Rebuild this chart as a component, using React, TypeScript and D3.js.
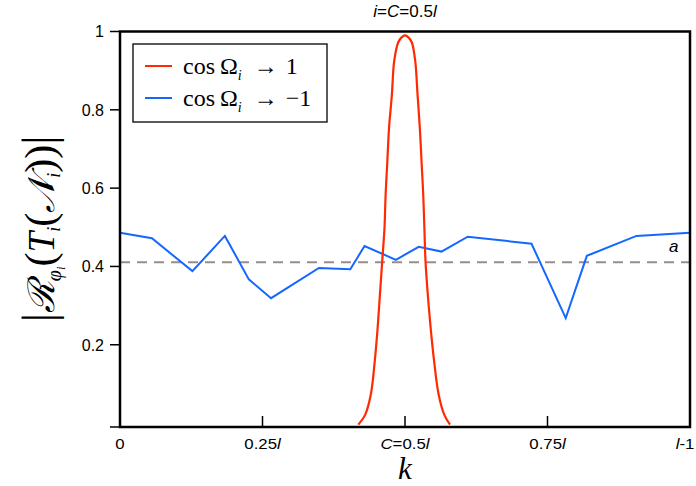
import React from "react";
import * as d3 from "d3";

// ---- data ----
const xTickValues = [0, 0.25, 0.5, 0.75, 1];
const xTickLabels = [["0"], ["0.25", "l"], ["C", "=0.5", "l"], ["0.75", "l"], ["l", "-1"]];
const yTickValues = [0.2, 0.4, 0.6, 0.8, 1];
const yTickLabels = ["0.2", "0.4", "0.6", "0.8", "1"];

const blueX = [0.0, 0.056, 0.127, 0.184, 0.226, 0.265, 0.349, 0.404, 0.429, 0.484, 0.524, 0.564, 0.61, 0.722, 0.782, 0.819, 0.906, 1.0];
const blueY = [0.486, 0.472, 0.388, 0.478, 0.367, 0.319, 0.396, 0.393, 0.452, 0.417, 0.45, 0.438, 0.476, 0.458, 0.268, 0.427, 0.478, 0.486];

const redX = [0.418, 0.43, 0.44, 0.447, 0.452, 0.456, 0.46, 0.464, 0.466, 0.469, 0.472, 0.477, 0.481, 0.488, 0.494, 0.5, 0.506, 0.512, 0.518, 0.522, 0.526, 0.529, 0.532, 0.534, 0.536, 0.54, 0.545, 0.551, 0.559, 0.569, 0.579];
const redY = [-0.004, 0.021, 0.073, 0.159, 0.243, 0.328, 0.413, 0.498, 0.583, 0.668, 0.754, 0.839, 0.924, 0.972, 0.985, 0.99, 0.985, 0.972, 0.924, 0.839, 0.754, 0.668, 0.583, 0.498, 0.413, 0.328, 0.243, 0.159, 0.073, 0.021, -0.004];

const thresholdA = 0.411;
const legendLabels = [{ end: "1" }, { end: "\u22121" }];

const W = 696;
const H = 486;
const BLUE = "#1468ff";
const RED = "#ff2a00";

export default function App() {
  const x = d3.scaleLinear().domain([0, 1]).range([120, 690]);
  const y = d3.scaleLinear().domain([-0.01, 1]).range([427, 31.5]);

  const blueLine = d3.line<number>().x((_, i) => x(blueX[i])).y((d) => y(d))(blueY) || "";
  const redLine =
    d3
      .line<number>()
      .x((_, i) => x(redX[i]))
      .y((d) => y(d))
      .curve(d3.curveCatmullRom.alpha(0.5))(redY) || "";

  const sans = "'Liberation Sans', Arial, sans-serif";
  const serif = "'Liberation Serif', 'DejaVu Serif', serif";

  return (
    <svg
      width={W}
      height={H}
      style={{ position: "fixed", left: 0, top: 0, background: "#fff" }}
      xmlns="http://www.w3.org/2000/svg"
    >
      <rect x={0} y={0} width={W} height={H} fill="#fff" />
      {/* title */}
      <text x={x(0.5)} y={17} textAnchor="middle" fontFamily={sans} fontSize={17}>
        <tspan fontStyle="italic">i</tspan>=<tspan fontStyle="italic">C</tspan>=0.5
        <tspan fontStyle="italic">l</tspan>
      </text>

      {/* threshold dashed line */}
      <line
        x1={x(0)}
        x2={x(1)}
        y1={y(thresholdA)}
        y2={y(thresholdA)}
        stroke="#978d8d"
        strokeWidth={2}
        strokeDasharray="10,7"
      />
      <text x={669} y={y(thresholdA) - 10} fontFamily={sans} fontStyle="italic" fontSize={17}>
        a
      </text>

      {/* series */}
      <path d={blueLine} fill="none" stroke={BLUE} strokeWidth={2} strokeLinejoin="miter" />
      <path d={redLine} fill="none" stroke={RED} strokeWidth={2.2} />

      {/* y ticks */}
      {[-0.01, ...yTickValues].map((v, i) => (
        <line key={"yt" + i} x1={110} x2={x(0)} y1={y(v)} y2={y(v)} stroke="#000" strokeWidth={1.5} />
      ))}
      {yTickValues.map((v, i) => (
        <text
          key={"yl" + i}
          x={104}
          y={y(v)}
          dy="0.36em"
          textAnchor="end"
          fontFamily={sans}
          fontSize={16}
        >
          {yTickLabels[i]}
        </text>
      ))}

      {/* x ticks */}
      {xTickValues.map((v, i) => (
        <line key={"xt" + i} x1={x(v)} x2={x(v)} y1={427} y2={416} stroke="#000" strokeWidth={1.5} />
      ))}
      {xTickValues.map((v, i) => (
        <g key={"xl" + i} transform={`translate(${x(v) + (i === xTickValues.length - 1 ? -5 : 0)},449) scale(1.2,1)`}>
          <text textAnchor="middle" fontFamily={sans} fontSize={14}>
            {xTickLabels[i].map((s, j) => (
              <tspan key={j} fontStyle={s === "l" || s === "C" ? "italic" : "normal"}>
                {s}
              </tspan>
            ))}
          </text>
        </g>
      ))}

      {/* frame */}
      <rect
        x={x(0)}
        y={y(1)}
        width={x(1) - x(0)}
        height={y(-0.01) - y(1)}
        fill="none"
        stroke="#000"
        strokeWidth={2.5}
      />

      {/* x label */}
      <text x={x(0.5)} y={479} textAnchor="middle" fontFamily={serif} fontStyle="italic" fontSize={31}>
        k
      </text>

      {/* y label */}
      <g transform="translate(54,229) rotate(-90)">
        <text textAnchor="middle" fontFamily={serif} fontSize={37}>
          <tspan fontSize={46}>|</tspan>
          <tspan fontStyle="italic">{"\u211B"}</tspan>
          <tspan fontSize={20} fontStyle="italic" dy={7}>
            φ
          </tspan>
          <tspan fontSize={13} fontStyle="italic" dy={4}>
            i
          </tspan>
          <tspan fontSize={42} dy={-11}>
            (
          </tspan>
          <tspan fontStyle="italic">T</tspan>
          <tspan fontSize={18} fontStyle="italic" dy={6}>
            i
          </tspan>
          <tspan fontSize={42} dy={-6}>
            (
          </tspan>
          <tspan fontStyle="italic">{"\uD835\uDCA9"}</tspan>
          <tspan fontSize={18} fontStyle="italic" dy={6}>
            i
          </tspan>
          <tspan fontSize={42} dy={-6}>
            ))
          </tspan>
          <tspan fontSize={46}>|</tspan>
        </text>
      </g>

      {/* legend */}
      <rect x={133} y={44} width={194} height={78} fill="#fff" stroke="#000" strokeWidth={1.3} />
      {legendLabels.map((l, i) => (
        <g key={"lg" + i}>
          <line
            x1={145}
            x2={172}
            y1={66 + i * 32}
            y2={66 + i * 32}
            stroke={i === 0 ? RED : BLUE}
            strokeWidth={2}
          />
          <text x={183} y={74 + i * 32} fontFamily={serif} fontSize={24}>
            cos
            <tspan dx={5}>Ω</tspan>
            <tspan fontSize={14} fontStyle="italic" dy={6}>
              i
            </tspan>
            <tspan dy={-6} dx={12}>
              →
            </tspan>
            <tspan dx={8}>{l.end}</tspan>
          </text>
        </g>
      ))}
    </svg>
  );
}
